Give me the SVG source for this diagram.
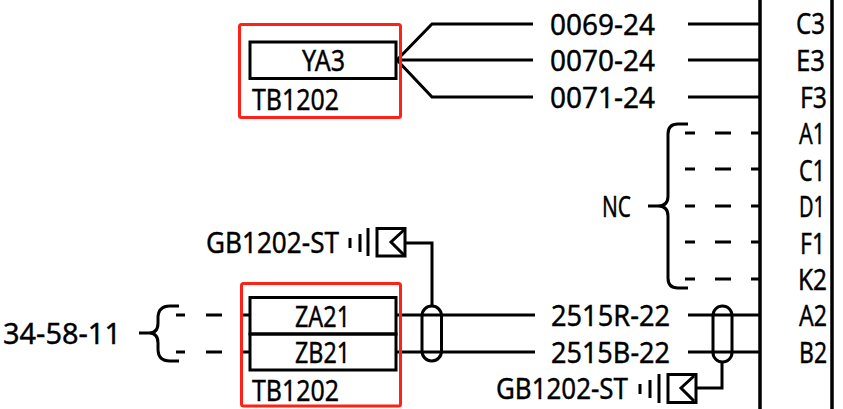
<svg xmlns="http://www.w3.org/2000/svg" width="843" height="409" viewBox="0 0 843 409">
<style>
text{font-family:"Noto Sans","Liberation Sans",sans-serif;font-size:29px;fill:#000;stroke:#000;stroke-width:.4px}
.l,.b,.h,.r,.d{fill:none;stroke:#000;stroke-width:3}
.h{stroke:#ff2115;stroke-linejoin:round}
</style>
<rect width="843" height="409" fill="#fff"/>
<g id="connectors">
<path class="l" d="M760 0V409M832 0V409" style="stroke-width:3.5"/>
<path class="l" d="M533 24H432L397 60L432 97H533M397 60H533M688 24H760M688 60H760M688 97H760"/>
<path class="l" d="M396 315H535M396 352H535M688 315H760M688 352H760"/>
<path class="d" d="M685 133H695M715 133H731M751 133H760M685 169H695M715 169H731M751 169H760M685 206H695M715 206H731M751 206H760M685 242H695M715 242H731M751 242H760M685 279H695M715 279H731M751 279H760"/>
<path class="d" d="M176 315H185M206 315H222M243 315H250M176 352H185M206 352H222M243 352H250"/>
<path class="l" d="M688 124H678Q668 124 668 134V196Q668 206 658 206H648M658 206Q668 206 668 216V278Q668 288 678 288H688"/>
<path class="l" d="M179 306H170Q158 306 158 318V323Q158 333 149 333H139M149 333Q158 333 158 343V349Q158 361 170 361H179"/>
<path class="l" d="M432 306V243H405M722 362V388H696"/>
<rect class="b" x="422" y="306" width="19.500" height="55" rx="9.700"/>
<rect class="b" x="713" y="306" width="19" height="56" rx="9.500"/>
</g>
<g id="ya3-group">
<rect class="h" x="239.500" y="24.500" width="161" height="93" rx="2"/>
<rect class="b" x="250" y="42" width="146" height="36.500"/>
<text x="302" y="71" textLength="43" lengthAdjust="spacingAndGlyphs">YA3</text>
<text x="252" y="110" textLength="87" lengthAdjust="spacingAndGlyphs">TB1202</text>
</g>
<g id="za-zb-group">
<rect class="h" x="241.500" y="283.500" width="159" height="122.500" rx="2"/>
<rect class="b" x="250" y="297.500" width="146" height="36.500"/>
<rect class="b" x="250" y="334" width="146" height="36"/>
<text x="295" y="327" textLength="55" lengthAdjust="spacingAndGlyphs">ZA21</text>
<text x="295" y="363" textLength="55" lengthAdjust="spacingAndGlyphs">ZB21</text>
<text x="252" y="401" textLength="87" lengthAdjust="spacingAndGlyphs">TB1202</text>
</g>
<g id="shield-top">
<text x="206" y="253" textLength="133" lengthAdjust="spacingAndGlyphs">GB1202-ST</text>
<path class="l" d="M350 238V248M360 234V252M368 228V256"/>
<rect class="b" x="377" y="228.500" width="28" height="27.500"/>
<path class="l" d="M404 230L391 242L404 255"/>
</g>
<g id="shield-bottom">
<text x="496" y="399" textLength="132" lengthAdjust="spacingAndGlyphs">GB1202-ST</text>
<path class="l" d="M640 384V394M650 380V398M659 374V403"/>
<rect class="b" x="668" y="374.500" width="28" height="28"/>
<path class="l" d="M694 376L681 388L694 401"/>
</g>
<g id="wire-labels">
<text x="550" y="35" textLength="105" lengthAdjust="spacingAndGlyphs">0069-24</text>
<text x="550" y="71" textLength="105" lengthAdjust="spacingAndGlyphs">0070-24</text>
<text x="550" y="108" textLength="105" lengthAdjust="spacingAndGlyphs">0071-24</text>
<text x="551" y="326" textLength="119" lengthAdjust="spacingAndGlyphs">2515R-22</text>
<text x="551" y="363" textLength="119" lengthAdjust="spacingAndGlyphs">2515B-22</text>
<text x="3" y="344" textLength="118" lengthAdjust="spacingAndGlyphs">34-58-11</text>
<text x="602" y="217" textLength="29" lengthAdjust="spacingAndGlyphs">NC</text>
</g>
<g id="pin-labels">
<text x="796" y="34" textLength="29" lengthAdjust="spacingAndGlyphs">C3</text>
<text x="796" y="71" textLength="29" lengthAdjust="spacingAndGlyphs">E3</text>
<text x="800" y="108" textLength="27" lengthAdjust="spacingAndGlyphs">F3</text>
<text x="799" y="144" textLength="26" lengthAdjust="spacingAndGlyphs">A1</text>
<text x="799" y="181" textLength="26" lengthAdjust="spacingAndGlyphs">C1</text>
<text x="799" y="217" textLength="26" lengthAdjust="spacingAndGlyphs">D1</text>
<text x="800" y="254" textLength="25" lengthAdjust="spacingAndGlyphs">F1</text>
<text x="798" y="290" textLength="29" lengthAdjust="spacingAndGlyphs">K2</text>
<text x="799" y="326" textLength="28" lengthAdjust="spacingAndGlyphs">A2</text>
<text x="799" y="363" textLength="28" lengthAdjust="spacingAndGlyphs">B2</text>
</g>
</svg>
